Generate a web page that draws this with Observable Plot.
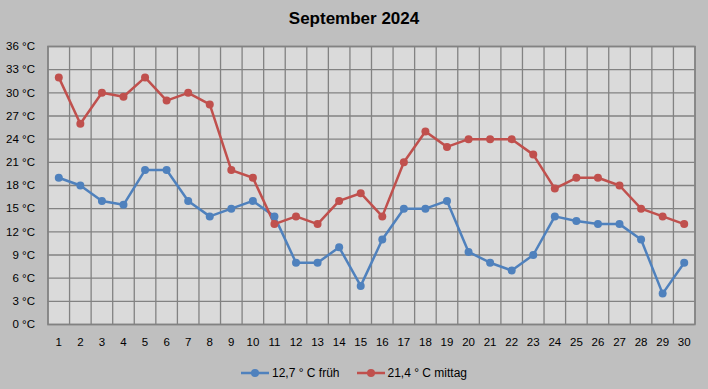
<!DOCTYPE html>
<html><head><meta charset="utf-8">
<script src="https://cdn.jsdelivr.net/npm/d3@7"></script>
<script src="https://cdn.jsdelivr.net/npm/@observablehq/plot@0.6"></script>
<style>
html,body{margin:0;padding:0;background:#BFBFBF;}
body{width:708px;height:389px;overflow:hidden;font-family:"Liberation Sans",Arial,sans-serif;color:#000;}
#title{height:36px;line-height:38px;text-align:center;font-weight:bold;font-size:17px;}
#chart svg{display:block;background:transparent;}
#legend{display:flex;justify-content:center;align-items:center;height:33px;font-size:12px;gap:17px;}
.item{display:flex;align-items:center;gap:3px;}
</style>
</head><body>
<div id="title">September 2024</div>
<div id="chart"></div>
<div id="legend"></div>
<script>
const days = [1,2,3,4,5,6,7,8,9,10,11,12,13,14,15,16,17,18,19,20,21,22,23,24,25,26,27,28,29,30];
const frueh = [19,18,16,15.5,20,20,16,14,15,16,14,8,8,10,5,11,15,15,16,9.4,8,7,9,14,13.4,13,13,11,4,8];
const mittag = [32,26,30,29.5,32,29,30,28.5,20,19,13,14,13,16,17,14,21,25,23,24,24,24,22,17.6,19,19,18,15,14,13];
const yTicks = [0,3,6,9,12,15,18,21,24,27,30,33,36];
const seriesNames = ["12,7 ° C früh","21,4 ° C mittag"];
const colors = ["#4F81BD","#C0504D"];

const rows = [];
days.forEach((d,i)=>{
  rows.push({day:d, t:frueh[i], s:seriesNames[0]});
  rows.push({day:d, t:mittag[i], s:seriesNames[1]});
});
const bounds = days.map(d=>d-0.5).concat([days[days.length-1]+0.5]);

const chart = Plot.plot({
  width:708, height:320,
  marginTop:10, marginBottom:32, marginLeft:47.5, marginRight:13.5,
  style:{fontFamily:"Liberation Sans, Arial, sans-serif", fontSize:"11.5px", color:"#000", background:"transparent"},
  x:{domain:[0.5,30.5]},
  y:{domain:[0,36]},
  color:{domain:seriesNames, range:colors},
  marks:[
    Plot.frame({fill:"#DADADA"}),
    Plot.ruleX(bounds,{stroke:"#828282", strokeWidth:1.3}),
    Plot.ruleY(yTicks,{stroke:"#828282", strokeWidth:1.3}),
    Plot.frame({stroke:"#828282", strokeWidth:1.5}),
    Plot.line(rows,{x:"day", y:"t", z:"s", stroke:"s", strokeWidth:2.5}),
    Plot.dot(rows,{x:"day", y:"t", fill:"s", r:4}),
    Plot.axisY({ticks:yTicks, tickSize:0, tickPadding:13, tickFormat:d=>`${d} °C`, label:null}),
    Plot.axisX({ticks:days, tickSize:0, tickPadding:13, tickFormat:d=>String(d), label:null})
  ]
});
document.getElementById("chart").appendChild(chart);

const leg = document.getElementById("legend");
seriesNames.forEach((n,i)=>{
  const it = document.createElement("div"); it.className="item";
  it.innerHTML = `<svg width="28" height="10"><line x1="0" x2="28" y1="5" y2="5" stroke="${colors[i]}" stroke-width="2.5"/><circle cx="14" cy="5" r="4" fill="${colors[i]}"/></svg><span>${n}</span>`;
  leg.appendChild(it);
});
</script>
</body></html>
